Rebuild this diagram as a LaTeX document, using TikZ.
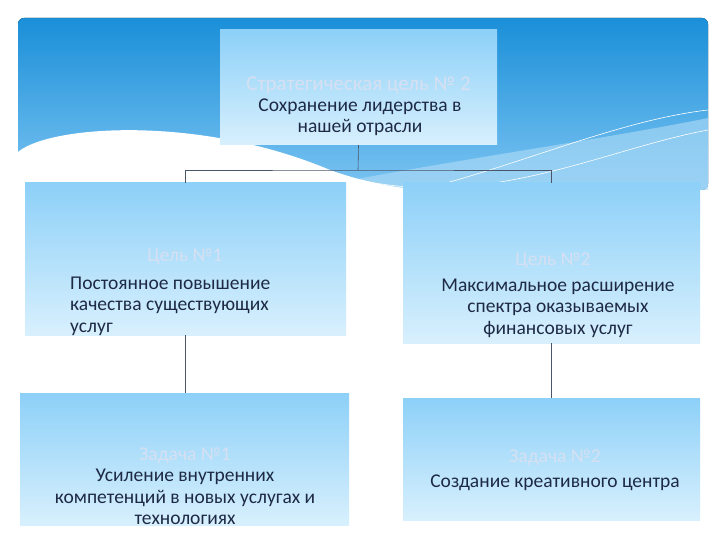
\documentclass[tikz,border=0pt]{standalone}
\usepackage{fontspec}
\setmainfont{Carlito}
\begin{document}
\begin{tikzpicture}[x=1pt,y=-1pt,
  box/.style={top color=boxtop,bottom color=boxbot,draw=none,inner sep=0pt},
  txt/.style={text=navy,font=\fontsize{19.5}{21.5}\selectfont,align=center,inner sep=0pt},
  conn/.style={draw=navy!80,line width=0.6pt}]
\definecolor{navy}{HTML}{1E2A45}
\definecolor{lbl}{HTML}{D6E0F2}
\definecolor{skytop}{HTML}{1A8FD8}
\definecolor{skybot}{HTML}{7CC4F2}
\definecolor{boxtop}{HTML}{8DD0F8}
\definecolor{boxbot}{HTML}{D8F0FD}
\fill[white] (0,0) rectangle (720,540);
\useasboundingbox (0,0) rectangle (720,540);
% sky
\fill[top color=skytop,bottom color=skybot,rounded corners=6pt] (18,18) rectangle (708,190);
\fill[skybot!60!white,opacity=0.6] (300,190) .. controls (450,160) and (600,140) .. (708,118) -- (708,190) -- cycle;
\fill[white] (18,152) .. controls (50,125) and (200,115) .. (330,170) .. controls (380,188) and (420,190) .. (440,191) -- (18,191) -- cycle;
\draw[white,line width=0.6pt] (340,175) .. controls (480,215) and (600,150) .. (708,130);
\draw[white,line width=0.6pt] (420,190) .. controls (520,165) and (620,120) .. (708,110);
% boxes
\node[box,minimum width=277pt,minimum height=115pt] (top) at (358.5,87.5) {};
\node[txt,text=lbl,font=\fontsize{21}{23}\selectfont] (t1) at (358.5,85) {Стратегическая цель № 2};
\node[txt] (t2) at (360,117) {Сохранение лидерства в\\нашей отрасли};
\node[box,minimum width=321pt,minimum height=152pt] (g1) at (185.5,259) {};
\node[txt,text=lbl] (g1a) at (185,257) {Цель №1};
\node[txt,align=left,anchor=west] (g1b) at (70,306) {Постоянное повышение\\качества существующих\\услуг};
\node[box,minimum width=297pt,minimum height=160pt] (g2) at (551.5,263) {};
\node[txt,text=lbl] (g2a) at (553,261) {Цель №2};
\node[txt] (g2b) at (558,308) {Максимальное расширение\\спектра оказываемых\\финансовых услуг};
\node[box,minimum width=329pt,minimum height=132pt] (z1) at (184.5,459) {};
\node[txt] (z1t) at (185,486) {\textcolor{lbl}{Задача №1}\\Усиление внутренних\\компетенций в новых услугах и\\технологиях};
\node[box,minimum width=297pt,minimum height=122pt] (z2) at (551.5,459) {};
\node[txt,font=\fontsize{19.5}{25}\selectfont] (z2t) at (555,470) {\textcolor{lbl}{Задача №2}\\Создание креативного центра};
% connectors
\coordinate (j) at (358,170);
\draw[conn] (top.south) -- (j);
\draw[conn] (185,183) |- (j) -| (551,183);
\draw[conn] (185,335) -- (185,393);
\draw[conn] (551,343) -- (551,398);
\end{tikzpicture}
\end{document}
